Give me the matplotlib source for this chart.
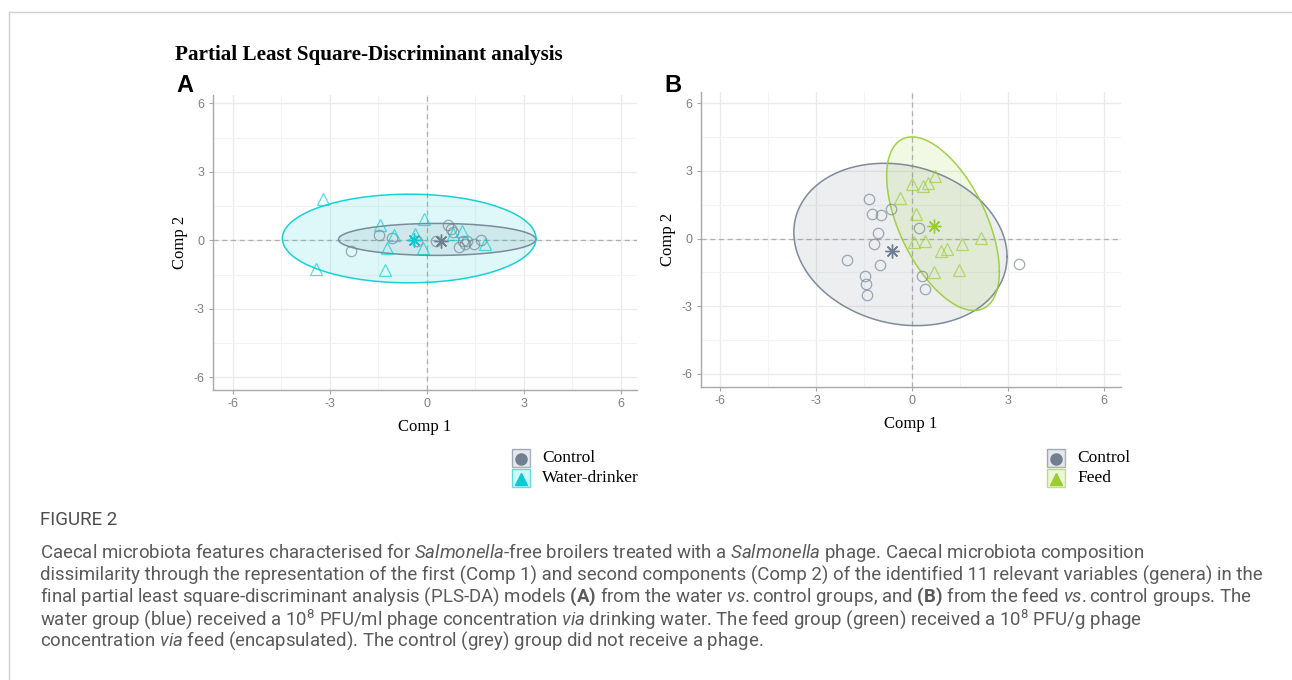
import numpy as np
import matplotlib
matplotlib.use("Agg")
import matplotlib.pyplot as plt
from matplotlib import font_manager
from matplotlib.lines import Line2D
from matplotlib.patches import Rectangle

# ---- data ----
# panel A : water vs control
a_ctrl_x = [-2.35, -1.47, -1.08, -0.30, 0.28, 0.65, 0.74, 0.80, 1.00, 1.12, 1.24, 1.18, 1.47, 1.68]
a_ctrl_y = [-0.47, 0.22, 0.11, -0.02, -0.03, 0.69, 0.51, 0.37, -0.28, -0.04, -0.03, -0.18, -0.17, 0.00]
a_water_x = [-3.22, -3.43, -1.45, -1.00, -1.24, -1.28, -0.36, -0.08, -0.12, 0.82, 1.08, 1.80]
a_water_y = [1.83, -1.24, 0.66, 0.22, -0.35, -1.30, 0.27, 0.92, -0.33, 0.29, 0.43, -0.15]
a_centroids = {"Control": (0.43, -0.03), "Water-drinker": (-0.41, 0.00)}
# ellipses: centre x, centre y, half x-extent, half y-extent, correlation
a_ellipses = {"Control": (0.32, 0.04, 3.05, 0.70, 0.0),
              "Water-drinker": (-0.545, 0.08, 3.92, 1.94, 0.0)}

# panel B : feed vs control
b_ctrl_x = [-1.34, -1.25, -0.99, -0.66, -1.06, -1.19, -2.04, -1.01, -1.49, -1.45, -1.41, 0.20, 0.31, 0.39, 3.33]
b_ctrl_y = [1.74, 1.08, 1.05, 1.30, 0.24, -0.24, -0.95, -1.17, -1.64, -2.01, -2.50, 0.49, -1.64, -2.23, -1.14]
b_feed_x = [0.72, 0.00, 0.35, 0.49, -0.39, 0.11, 0.06, 0.40, 0.89, 1.07, 1.54, 2.16, 0.68, 1.47]
b_feed_y = [2.79, 2.41, 2.34, 2.48, 1.82, 1.09, -0.16, -0.09, -0.53, -0.44, -0.24, 0.01, -1.49, -1.40]
b_centroids = {"Control": (-0.64, -0.53), "Feed": (0.68, 0.58)}
b_ellipses = {"Control": (-0.37, -0.26, 3.33, 3.60, -0.15),
              "Feed": (0.96, 0.66, 1.76, 3.85, -0.55)}

ticks = [-6, -3, 0, 3, 6]
minor = [-4.5, -1.5, 1.5, 4.5]

grey = "#708090"
cyan = "#00CED1"
green = "#9ACD32"

caption_lines = [
    r"Caecal microbiota features characterised for $\mathit{Salmonella}$-free broilers treated with a $\mathit{Salmonella}$ phage. Caecal microbiota composition",
    r"dissimilarity through the representation of the first (Comp 1) and second components (Comp 2) of the identified 11 relevant variables (genera) in the",
    r"final partial least square-discriminant analysis (PLS-DA) models $\mathbf{(A)}$ from the water $\mathit{vs.}$control groups, and $\mathbf{(B)}$ from the feed $\mathit{vs.}$control groups. The",
    r"water group (blue) received a $\mathregular{10^{8}}$ PFU/ml phage concentration $\mathit{via}$ drinking water. The feed group (green) received a $\mathregular{10^{8}}$ PFU/g phage",
    r"concentration $\mathit{via}$ feed (encapsulated). The control (grey) group did not receive a phage.",
]

# ---- fonts ----
names = {f.name for f in font_manager.fontManager.ttflist}
cap_font = "Liberation Sans Narrow" if "Liberation Sans Narrow" in names else "Roboto"
plt.rcParams["mathtext.fontset"] = "custom"
plt.rcParams["mathtext.rm"] = cap_font
plt.rcParams["mathtext.it"] = cap_font + ":italic"
plt.rcParams["mathtext.bf"] = cap_font + ":bold"
plt.rcParams["mathtext.default"] = "regular"
plt.rcParams["axes.unicode_minus"] = False

W, H = 1292, 680
fig = plt.figure(figsize=(W / 100, H / 100), dpi=100)


def px(x0, y0, x1, y1):
    return [x0 / W, 1 - y1 / H, (x1 - x0) / W, (y1 - y0) / H]


def ellipse_xy(cx, cy, hx, hy, r):
    cov = np.array([[hx * hx, r * hx * hy], [r * hx * hy, hy * hy]])
    L = np.linalg.cholesky(cov)
    t = np.linspace(0, 2 * np.pi, 300)
    pts = L @ np.vstack([np.cos(t), np.sin(t)])
    return cx + pts[0], cy + pts[1]


def panel(rect, xlim, ylim, groups, ellipses, centroids):
    ax = fig.add_axes(rect)
    ax.set_xlim(*xlim)
    ax.set_ylim(*ylim)
    ax.set_xticks(ticks)
    ax.set_yticks(ticks)
    ax.set_xticks(minor, minor=True)
    ax.set_yticks(minor, minor=True)
    ax.grid(True, which="major", color="#EBEBEB", lw=1.0)
    ax.grid(True, which="minor", color="#F3F3F3", lw=0.8)
    ax.set_axisbelow(True)
    for s in ["top", "right"]:
        ax.spines[s].set_visible(False)
    for s in ["left", "bottom"]:
        ax.spines[s].set_color("#A8A8A8")
        ax.spines[s].set_linewidth(1.0)
    ax.tick_params(which="both", length=0)
    ax.tick_params(which="major", length=3, color="#A8A8A8", labelcolor="#7F7F7F",
                   labelsize=9, pad=3)
    for lab in ax.get_xticklabels() + ax.get_yticklabels():
        lab.set_family("Liberation Sans")
    ax.axhline(0, color="#B0B0B0", lw=0.9, ls=(0, (4, 3)), zorder=1)
    ax.axvline(0, color="#B0B0B0", lw=0.9, ls=(0, (4, 3)), zorder=1)

    for name, (xs, ys, col, mk, ms) in groups.items():
        ex, ey = ellipse_xy(*ellipses[name])
        ax.fill(ex, ey, color=col, alpha=0.13, lw=0, zorder=2)
        ax.plot(ex, ey, color=col, lw=1.1, alpha=0.9, zorder=3)
    for name, (xs, ys, col, mk, ms) in groups.items():
        ax.plot(xs, ys, ls="none", marker=mk, ms=ms, mfc="none", mec=col,
                mew=0.9, alpha=0.65, zorder=4)
        cx, cy = centroids[name]
        ax.plot([cx], [cy], ls="none", marker=(8, 2, 0), ms=10, mec=col,
                mew=1.0, zorder=5)

    ax.set_xlabel("Comp 1", family="Liberation Serif", fontsize=12, labelpad=6)
    ax.set_ylabel("Comp 2", family="Liberation Serif", fontsize=12, labelpad=4)
    return ax


axA = panel(px(213, 95, 637, 390), (-6.61, 6.5), (-6.55, 6.36),
            {"Control": (a_ctrl_x, a_ctrl_y, grey, "o", 7.5),
             "Water-drinker": (a_water_x, a_water_y, cyan, "^", 8.5)},
            a_ellipses, a_centroids)
axB = panel(px(701, 92, 1121, 387), (-6.6, 6.52), (-6.58, 6.5),
            {"Control": (b_ctrl_x, b_ctrl_y, grey, "o", 7.5),
             "Feed": (b_feed_x, b_feed_y, green, "^", 8.5)},
            b_ellipses, b_centroids)


def legend(x0, y0, entries):
    for i, (label, col, mk) in enumerate(entries):
        ytop = y0 + i * 20
        fig.add_artist(Rectangle((x0 / W, 1 - (ytop + 18) / H), 18 / W, 18 / H,
                                 transform=fig.transFigure, facecolor=col,
                                 alpha=0.18, lw=0))
        fig.add_artist(Rectangle((x0 / W, 1 - (ytop + 18) / H), 18 / W, 18 / H,
                                 transform=fig.transFigure, facecolor="none",
                                 edgecolor=col, lw=1.0, alpha=0.6))
        fig.add_artist(Line2D([(x0 + 9) / W], [1 - (ytop + 9.5) / H], marker=mk,
                              ms=8 if mk == "o" else 9, color=col, ls="none",
                              transform=fig.transFigure))
        fig.text((x0 + 30) / W, 1 - (ytop + 9) / H, label, family="Liberation Serif",
                 fontsize=12.5, va="center", ha="left")


legend(512, 449, [("Control", grey, "o"), ("Water-drinker", cyan, "^")])
legend(1047, 449, [("Control", grey, "o"), ("Feed", green, "^")])

fig.text(175 / W, 1 - 55 / H, "Partial Least Square-Discriminant analysis",
         family="Liberation Serif", weight="bold", fontsize=15.2, va="center")
fig.text(176 / W, 1 - 86 / H, "A", family="Liberation Sans", weight="bold",
         fontsize=17, va="center")
fig.text(664 / W, 1 - 86 / H, "B", family="Liberation Sans", weight="bold",
         fontsize=17, va="center")

# frame lines of the figure panel
fig.add_artist(Line2D([9 / W, 1], [1 - 12 / H] * 2, transform=fig.transFigure,
                      color="#CFCFCF", lw=1))
fig.add_artist(Line2D([9 / W] * 2, [0, 1 - 12 / H], transform=fig.transFigure,
                      color="#CFCFCF", lw=1))

fig.text(40 / W, 1 - 520 / H, "FIGURE 2", family=cap_font, fontsize=13.5,
         color="#4D4D4D", va="center")
for i, line in enumerate(caption_lines):
    fig.text(40 / W, 1 - (553 + 22 * i) / H, line, family=cap_font, fontsize=13.4,
             color="#5A5A5A", va="center")

fig.savefig("out.png", dpi=100)
